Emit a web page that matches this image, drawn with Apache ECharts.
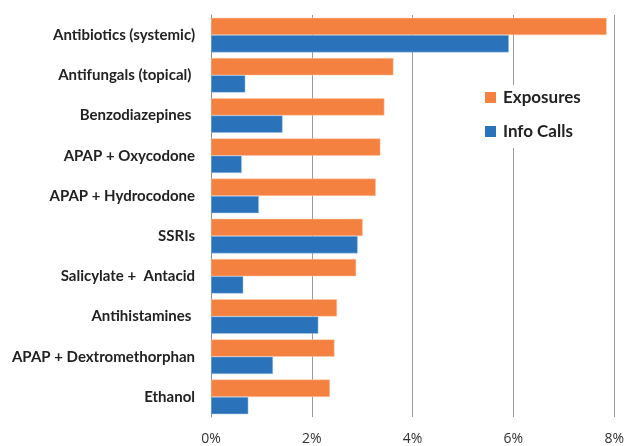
<!DOCTYPE html>
<html><head><meta charset="utf-8">
<script src="https://cdn.jsdelivr.net/npm/echarts@6/dist/echarts.min.js"></script>
<style>html,body{margin:0;padding:0;background:#fff}#c{width:627px;height:446px}</style>
</head><body><div id="c"></div>
<script>
const categories = ["Antibiotics (systemic)", "Antifungals (topical) ", "Benzodiazepines ", "APAP + Oxycodone", "APAP + Hydrocodone", "SSRIs", "Salicylate +  Antacid", "Antihistamines ", "APAP + Dextromethorphan", "Ethanol"];
const exposures = [7.85, 3.62, 3.44, 3.36, 3.27, 3.01, 2.88, 2.50, 2.45, 2.36];
const infoCalls = [5.91, 0.68, 1.42, 0.61, 0.95, 2.91, 0.64, 2.13, 1.23, 0.74];
const xTicks = [0, 2, 4, 6, 8];

const chart = echarts.init(document.getElementById('c'), null, {renderer: 'canvas'});
chart.setOption({
  animation: false,
  grid: {left: 211, right: 11, top: 15, bottom: 28, containLabel: false},
  legend: {
    orient: 'vertical', left: 479, top: 85,
    backgroundColor: '#fff', padding: [4, 8, 8, 6],
    itemWidth: 11, itemHeight: 11, itemGap: 17,
    icon: 'rect',
    itemStyle: {borderWidth: 0},
    textStyle: {fontFamily: 'Lato', fontWeight: 'bold', fontSize: 17, color: '#222', padding: [0, 0, 0, 2]},
    data: ['Exposures', 'Info Calls']
  },
  xAxis: {
    type: 'value', min: xTicks[0], max: xTicks[xTicks.length - 1], interval: 2,
    axisLine: {show: false}, axisTick: {show: false},
    splitLine: {lineStyle: {color: '#9a9a9a', width: 1}},
    axisLabel: {formatter: v => v + '%', fontFamily: 'Open Sans', fontSize: 14, color: '#333', margin: 15}
  },
  yAxis: {
    type: 'category', inverse: true, data: categories,
    axisLine: {lineStyle: {color: '#8a8a8a'}},
    axisTick: {length: 5, lineStyle: {color: '#8a8a8a'}},
    axisLabel: {fontFamily: 'Lato', fontWeight: 'bold', fontSize: 15, color: '#222', margin: 16}
  },
  series: [
    {name: 'Exposures', type: 'bar', data: exposures, barGap: '0%', barCategoryGap: '14%',
     itemStyle: {color: '#F48140', borderColor: '#fbc9a8', borderWidth: 0.5}, z: 3},
    {name: 'Info Calls', type: 'bar', data: infoCalls, barGap: '0%', barCategoryGap: '14%',
     itemStyle: {color: '#2A72BA', borderColor: '#a8c6e6', borderWidth: 0.5}, z: 3}
  ]
});
</script></body></html>
